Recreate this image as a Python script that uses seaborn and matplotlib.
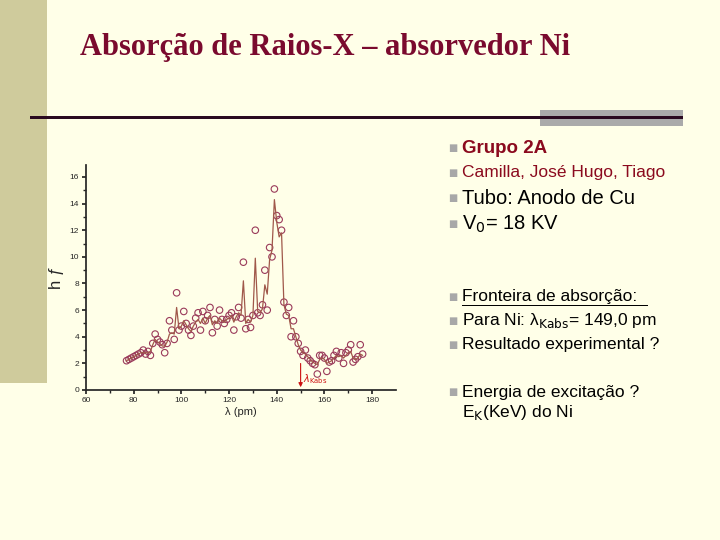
import numpy as np
import pandas as pd
import seaborn as sns
import matplotlib.pyplot as plt
from matplotlib.patches import Rectangle

wavelength = list(range(77, 177))
points = [2.2, 2.3, 2.4, 2.5, 2.6, 2.7, 2.8, 3.0, 2.7, 2.9, 2.6,
          3.5, 4.2, 3.8, 3.6, 3.4, 2.8, 3.5, 5.2, 4.5, 3.8,
          7.3, 4.5, 4.8, 5.9, 5.0, 4.5, 4.1, 4.8, 5.4, 5.8,
          4.5, 5.9, 5.2, 5.6, 6.2, 4.3, 5.3, 4.8, 6.0, 5.3,
          5.0, 5.3, 5.6, 5.8, 4.5, 5.5, 6.2, 5.4, 9.6, 4.6,
          5.3, 4.7, 5.6, 12.0, 5.8, 5.6, 6.4, 9.0, 6.0, 10.7,
          10.0, 15.1, 13.1, 12.8, 12.0, 6.6, 5.6, 6.2, 4.0, 5.2,
          4.0, 3.5, 2.9, 2.6, 3.0, 2.4, 2.2, 2.0, 1.9, 1.2,
          2.6, 2.6, 2.4, 1.4, 2.1, 2.2, 2.6, 2.9, 2.4, 2.8,
          2.0, 2.8, 3.0, 3.4, 2.1, 2.3, 2.5, 3.4, 2.7]
curve = [2.2, 2.3, 2.4, 2.5, 2.6, 2.7, 2.8, 2.8, 2.8, 2.8, 2.9,
         3.4, 3.8, 3.6, 3.5, 3.3, 3.3, 3.6, 4.2, 4.3, 4.2,
         6.2, 4.6, 4.8, 5.2, 4.9, 4.6, 4.4, 4.8, 5.1, 5.3,
         5.0, 5.4, 5.0, 5.4, 5.6, 4.9, 5.2, 5.0, 5.4, 5.2,
         5.1, 5.3, 5.4, 5.6, 5.1, 5.5, 5.8, 5.6, 8.2, 5.0,
         5.3, 5.1, 5.6, 9.9, 5.9, 5.8, 6.1, 7.9, 7.2, 9.8,
         10.5, 14.3, 12.6, 11.5, 11.8, 6.4, 5.7, 5.6, 4.6, 4.6,
         4.0, 3.4, 3.0, 2.8, 2.7, 2.5, 2.3, 2.1, 2.0, 1.9,
         2.3, 2.4, 2.3, 2.0, 2.1, 2.2, 2.4, 2.6, 2.5, 2.6,
         2.4, 2.6, 2.8, 2.9, 2.4, 2.3, 2.4, 2.7, 2.6]
xticks = [60, 80, 100, 120, 140, 160, 180]
yticks = [0, 2, 4, 6, 8, 10, 12, 14, 16]

df = pd.DataFrame({'lam': wavelength, 'pts': points, 'fit': curve})

sns.set_theme(style='ticks')
plt.rcParams['font.family'] = ['Liberation Sans', 'DejaVu Sans']
bg = '#FFFFE8'
red = '#8B0A1E'

fig = plt.figure(figsize=(7.2, 5.4), dpi=100, facecolor=bg)

# slide decorations
fig.patches.append(Rectangle((0, 1 - 383 / 540), 47 / 720, 383 / 540, transform=fig.transFigure,
                             facecolor='#CFCB9C', edgecolor='none', zorder=0))
fig.patches.append(Rectangle((540 / 720, 1 - 126 / 540), 143 / 720, 16 / 540, transform=fig.transFigure,
                             facecolor='#AAAAAA', edgecolor='none', zorder=1))
fig.patches.append(Rectangle((30 / 720, 1 - 119 / 540), 653 / 720, 3 / 540, transform=fig.transFigure,
                             facecolor='#2A0A20', edgecolor='none', zorder=2))
fig.text(80 / 720, 1 - 48 / 540, 'Absorção de Raios-X – absorvedor Ni', family='Liberation Serif',
         fontsize=22, fontweight='bold', color='#7A0A2E', va='center')

ax = fig.add_axes([86 / 720, 1 - 390 / 540, 310 / 720, 225 / 540])
ax.set_facecolor(bg)
sns.lineplot(data=df, x='lam', y='fit', ax=ax, color='#A0584A', lw=0.9)
sns.scatterplot(data=df, x='lam', y='pts', ax=ax, marker='o', s=22, facecolor='none',
                edgecolor='#9A3A5A', linewidth=0.8)
ax.set_xlim(60, 190)
ax.set_ylim(0, 16.9)
ax.set_xticks(xticks)
ax.set_yticks(yticks)
ax.tick_params(labelsize=6, length=3, pad=2)
ax.set_xticks(range(70, 190, 20), minor=True)
ax.set_yticks(range(1, 17, 2), minor=True)
ax.tick_params(which='minor', length=2)
for s in ['top', 'right']:
    ax.spines[s].set_visible(False)
ax.set_xlabel('λ (pm)', fontsize=8, labelpad=2)
ax.set_ylabel('h ƒ', fontsize=12, labelpad=4)
ax.annotate('', xy=(150, 0), xytext=(150, 2.2),
            arrowprops=dict(arrowstyle='-|>', color='#CC1010', lw=0.8, mutation_scale=6))
ax.text(151, 0.6, r'$\lambda_{\rm Kabs}$', color='#CC1010', fontsize=7)

# bullet list on the right
items = [
    (148, 'Grupo 2A', 13.5, red, 'bold'),
    (173, 'Camilla, José Hugo, Tiago', 12.5, red, 'normal'),
    (198, 'Tubo: Anodo de Cu', 14.5, 'black', 'normal'),
    (224, r'V$_0$= 18 KV', 14.5, 'black', 'normal'),
    (297, 'Fronteira de absorção:', 12.5, 'black', 'normal'),
    (321, r'Para Ni: λ$_{\rm Kabs}$= 149,0 pm', 12.5, 'black', 'normal'),
    (345, 'Resultado experimental ?', 12.5, 'black', 'normal'),
    (392, 'Energia de excitação ?', 12.5, 'black', 'normal'),
]
for y, txt, fs, col, fw in items:
    fig.text(448 / 720, 1 - y / 540, '■', fontsize=7, color='#A8A8A8', va='center', family='DejaVu Sans')
    t = fig.text(462 / 720, 1 - y / 540, txt, fontsize=fs, color=col, fontweight=fw, va='center')
fig.text(462 / 720, 1 - 412 / 540, r'E$_{\rm K}$(KeV) do Ni', fontsize=12.5, color='black', va='center')
# underline for "Fronteira de absorção"
fig.patches.append(Rectangle((462 / 720, 1 - 306 / 540), 186 / 720, 1 / 540, transform=fig.transFigure,
                             facecolor='black', edgecolor='none'))

fig.savefig('out.png', dpi=100, facecolor=bg)
